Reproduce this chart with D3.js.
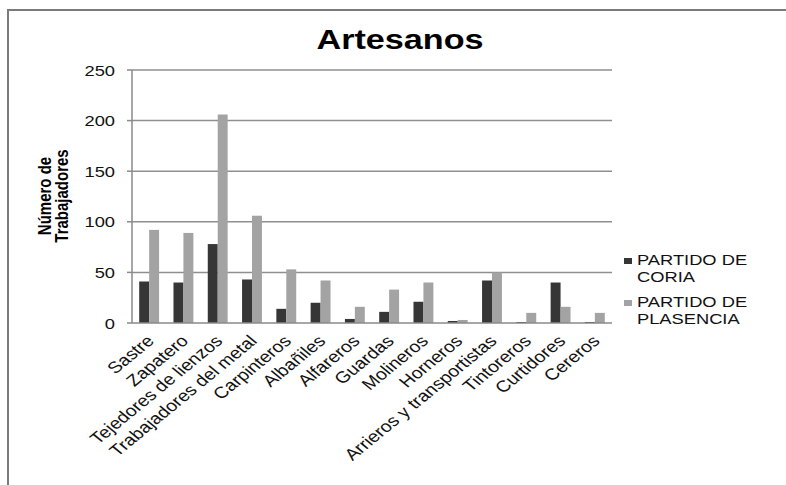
<!DOCTYPE html>
<html><head><meta charset="utf-8">
<script src="https://cdn.jsdelivr.net/npm/d3@7"></script>
<style>body{margin:0;background:#fff}svg{display:block}text{font-family:"Liberation Sans",Arial,sans-serif}</style>
</head><body><svg id="c" width="786" height="485"></svg>
<script>
const categories = ["Sastre","Zapatero","Tejedores de lienzos","Trabajadores del metal","Carpinteros","Albañiles","Alfareros","Guardas","Molineros","Horneros","Arrieros y transportistas","Tintoreros","Curtidores","Cereros"];
const coria = [41,40,78,43,14,20,4,11,21,2,42,1,40,1];
const plasencia = [92,89,206,106,53,42,16,33,40,3,50,10,16,10];
const seriesNames = ["PARTIDO DE CORIA","PARTIDO DE PLASENCIA"];
const yTicks = [0,50,100,150,200,250];
const title = "Artesanos";
const yTitle = ["Número de","Trabajadores"];

const svg = d3.select("#c");
const SX = 1.22;
const colors = ["#363636","#a3a3a3"];
const m = {l:132, r:612, t:70, b:323};

// frame
svg.append("path").attr("d","M8,485 V10 H786").attr("fill","none").attr("stroke","#7a7a7a").attr("stroke-width",2);

const x = d3.scaleBand().domain(categories).range([m.l,m.r]).paddingInner(0.42).paddingOuter(0.21);
const y = d3.scaleLinear().domain([0,250]).range([m.b,m.t]);

// gridlines
svg.append("g").selectAll("line").data(yTicks.filter(d=>d>0)).join("line")
  .attr("x1",m.l).attr("x2",m.r).attr("y1",d=>y(d)).attr("y2",d=>y(d))
  .attr("stroke","#8f8f8f").attr("stroke-width",1.5);

// bars
const data = categories.map((c,i)=>({c, v:[coria[i],plasencia[i]]}));
const x1 = d3.scaleBand().domain([0,1]).range([0,x.bandwidth()]);
const g = svg.append("g");
data.forEach(d=>{
  d.v.forEach((v,k)=>{
    g.append("rect").attr("x",x(d.c)+x1(k)).attr("width",x1.bandwidth())
     .attr("y",y(v)).attr("height",y(0)-y(v)).attr("fill",colors[k]);
  });
});

// axes lines
svg.append("line").attr("x1",m.l).attr("x2",m.l).attr("y1",m.t).attr("y2",m.b).attr("stroke","#8a8a8a").attr("stroke-width",1.5);
svg.append("line").attr("x1",m.l).attr("x2",m.r).attr("y1",m.b).attr("y2",m.b).attr("stroke","#8a8a8a").attr("stroke-width",1.5);
svg.append("g").selectAll("line").data(yTicks).join("line")
  .attr("x1",m.l-5).attr("x2",m.l).attr("y1",d=>y(d)).attr("y2",d=>y(d)).attr("stroke","#8a8a8a").attr("stroke-width",1.5);

// y tick labels
svg.append("g").selectAll("text").data(yTicks).join("text")
  .attr("transform",d=>`translate(115,${y(d)+5.5}) scale(${SX},1)`)
  .attr("text-anchor","end").attr("font-size",15).attr("fill","#111").text(d=>d);

// x labels
svg.append("g").selectAll("text").data(categories).join("text")
  .attr("transform",d=>`translate(${x(d)+x.bandwidth()/2+6},${m.b+19}) scale(${SX},1) rotate(-45)`)
  .attr("text-anchor","end").attr("font-size",16).attr("fill","#111").text(d=>d);

// title
svg.append("text").attr("transform",`translate(400,49) scale(${SX},1)`).attr("text-anchor","middle")
  .attr("font-size",28).attr("font-weight","bold").attr("fill","#000").text(title);

// y title
yTitle.forEach((t,i)=>{
  svg.append("text").attr("transform",`translate(${51+i*17},196) scale(${SX},1) rotate(-90)`).attr("text-anchor","middle")
    .attr("font-size",15).attr("font-weight","bold").attr("fill","#000").text(t);
});

// legend
const leg = [["PARTIDO DE","CORIA"],["PARTIDO DE","PLASENCIA"]];
leg.forEach((lines,k)=>{
  const y0 = 265 + k*42;
  svg.append("rect").attr("x",624).attr("y",y0-7).attr("width",8).attr("height",6).attr("fill",colors[k]);
  lines.forEach((t,j)=>{
    svg.append("text").attr("transform",`translate(637,${y0+j*17}) scale(${SX},1)`)
      .attr("font-size",15).attr("fill","#111").text(t);
  });
});
</script></body></html>
